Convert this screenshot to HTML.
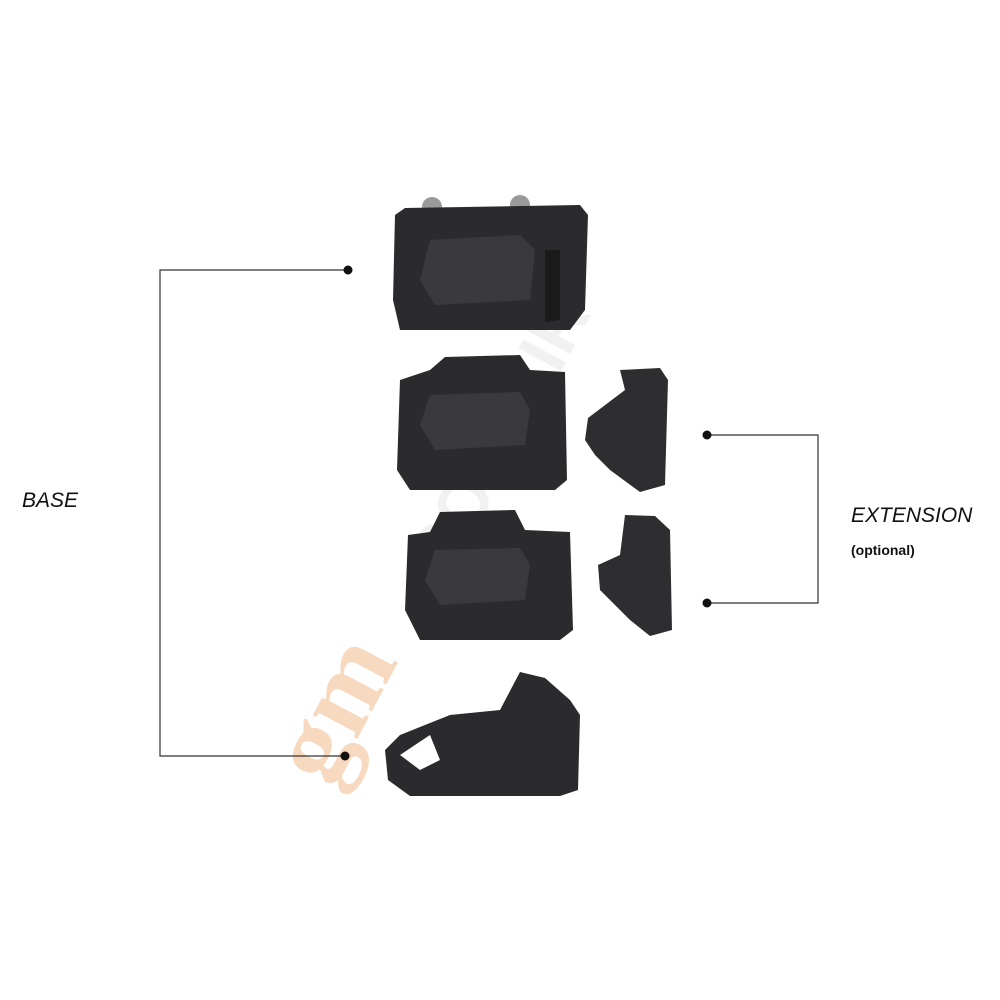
<!DOCTYPE html>
<html><head><meta charset="utf-8"><style>
html,body{margin:0;padding:0;background:#fff;}
body{width:1000px;height:1000px;overflow:hidden;position:relative;font-family:"Liberation Sans",sans-serif;}
</style></head><body>
<svg width="1000" height="1000" viewBox="0 0 1000 1000" xmlns="http://www.w3.org/2000/svg" style="position:absolute;left:0;top:0">
<rect width="1000" height="1000" fill="#fff"/>
<text x="0" y="0" transform="translate(330,790) rotate(-62)" font-family="Liberation Serif,serif" font-weight="bold" font-size="110" fill="#f4c9a4" opacity="0.7">gm</text>
<text x="0" y="0" transform="translate(450,580) rotate(-62)" font-family="Liberation Sans,sans-serif" font-weight="bold" font-size="70" fill="#e8e8e8" opacity="0.6">SOFTAIR</text>
<polyline points="348,270 160,270 160,756 345,756" fill="none" stroke="#333" stroke-width="1.2"/>
<circle cx="348" cy="270" r="4.5" fill="#111"/>
<circle cx="345" cy="756" r="4.5" fill="#111"/>
<polyline points="707,435 818,435 818,603 707,603" fill="none" stroke="#333" stroke-width="1.2"/>
<circle cx="707" cy="435" r="4.5" fill="#111"/>
<circle cx="707" cy="603" r="4.5" fill="#111"/>
<circle cx="432" cy="207" r="10" fill="#9a9a9a"/><circle cx="520" cy="205" r="10" fill="#9a9a9a"/>
<polygon points="395,215 405,208 580,205 588,215 585,310 570,330 400,330 393,300" fill="#2b2b2d"/>
<polygon points="430,240 520,235 535,250 530,300 435,305 420,280" fill="#3a3a3c"/>
<polygon points="545,250 560,250 560,320 545,322" fill="#1a1a1b"/>
<polygon points="400,380 430,370 445,357 520,355 530,370 565,372 567,480 555,490 410,490 397,470" fill="#2b2b2d"/>
<polygon points="430,395 520,392 530,410 525,445 435,450 420,425" fill="#3a3a3c"/>
<polygon points="588,418 625,390 620,370 660,368 668,380 665,485 640,492 610,470 595,455 585,440" fill="#2e2e30"/>
<polygon points="408,535 430,532 440,512 515,510 525,530 570,532 573,630 560,640 420,640 405,610" fill="#2b2b2d"/>
<polygon points="435,550 520,548 530,565 525,600 440,605 425,580" fill="#3a3a3c"/>
<polygon points="598,565 620,555 625,515 655,516 670,530 672,630 650,636 630,620 600,590" fill="#2e2e30"/>
<polygon points="520,672 545,678 570,700 580,715 578,790 560,796 410,796 388,780 385,750 400,735 450,715 500,710" fill="#2b2b2d"/>
<polygon points="400,755 430,735 440,760 420,770" fill="#fff"/>
<text x="22" y="507" font-family="Liberation Sans,sans-serif" font-style="italic" font-size="21" fill="#111">BASE</text>
<text x="851" y="522" font-family="Liberation Sans,sans-serif" font-style="italic" font-size="21" fill="#111">EXTENSION</text>
<text x="851" y="555" font-family="Liberation Sans,sans-serif" font-weight="bold" font-size="14" fill="#111">(optional)</text>
</svg>
</body></html>
